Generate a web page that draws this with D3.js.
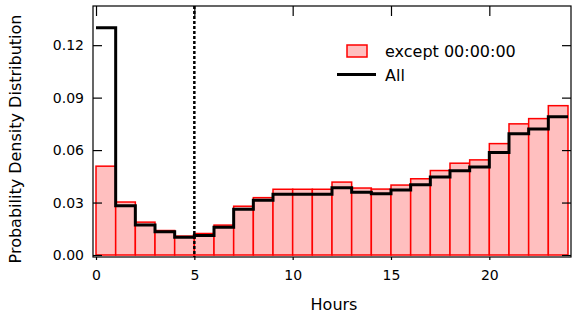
<!DOCTYPE html>
<html>
<head>
<meta charset="utf-8">
<script src="https://cdn.jsdelivr.net/npm/d3@7"></script>
<style>
  body { margin: 0; background: #fff; }
  svg text { font-family: "DejaVu Sans", sans-serif; fill: #000; }
</style>
</head>
<body>
<div id="chart"></div>
<script>
// hour bins (start of each 1h bin)
var hours = [0,1,2,3,4,5,6,7,8,9,10,11,12,13,14,15,16,17,18,19,20,21,22,23];
// density, timestamps 00:00:00 excluded
var exceptVals = [0.0508,0.0303,0.0188,0.0140,0.0108,0.0123,0.0171,0.0279,0.0328,0.0376,0.0376,0.0376,
                  0.0417,0.0383,0.0377,0.0400,0.0436,0.0483,0.0525,0.0544,0.0637,0.0750,0.0780,0.0854];
// density, all timestamps
var allVals = [0.1300,0.0281,0.0171,0.0133,0.0102,0.0112,0.0159,0.0261,0.0313,0.0347,0.0347,0.0347,
               0.0385,0.0359,0.0351,0.0372,0.0402,0.0446,0.0482,0.0503,0.0586,0.0694,0.0721,0.0790];
var xTicks = [0,5,10,15,20];
var yTicks = [0,0.03,0.06,0.09,0.12];
var markerHour = 5;

var width = 572, height = 313;
var plot = {left: 93, right: 571, top: 6, bottom: 257};

var svg = d3.select("#chart").append("svg")
    .attr("width", width)
    .attr("height", height);

var x = d3.scaleLinear()
    .domain([-0.153, 24.153])
    .range([plot.left, plot.right]);
var y = d3.scaleLinear()
    .domain([-0.00114, 0.1424])
    .range([plot.bottom, plot.top]);

// bars (except 00:00:00)
svg.append("g")
    .selectAll("rect")
    .data(hours)
    .enter()
    .append("rect")
    .attr("x", function (d) { return x(d); })
    .attr("y", function (d, i) { return y(exceptVals[i]); })
    .attr("width", function (d) { return x(d + 1) - x(d); })
    .attr("height", function (d, i) { return y(0) - y(exceptVals[i]); })
    .attr("fill", "#ffbfbf")
    .attr("stroke", "#ff0000")
    .attr("stroke-width", 1.5);

// step line (All)
var stepData = hours.map(function (h, i) { return [h, allVals[i]]; });
stepData.push([24, allVals[allVals.length - 1]]);
var line = d3.line()
    .x(function (d) { return x(d[0]); })
    .y(function (d) { return y(d[1]); })
    .curve(d3.curveStepAfter);
svg.append("path")
    .datum(stepData)
    .attr("d", line)
    .attr("fill", "none")
    .attr("stroke", "#000")
    .attr("stroke-width", 3);

// dotted marker line
svg.append("line")
    .attr("x1", x(markerHour)).attr("x2", x(markerHour))
    .attr("y1", plot.top).attr("y2", plot.bottom)
    .attr("stroke", "#000")
    .attr("stroke-width", 2.5)
    .attr("stroke-dasharray", "3,2");

// axes
var xAxis = svg.append("g")
    .attr("transform", "translate(0," + plot.bottom + ")")
    .call(d3.axisBottom(x).tickValues(xTicks).tickSize(3).tickPadding(10).tickFormat(d3.format("d")));
var xTop = svg.append("g")
    .attr("transform", "translate(0," + plot.top + ")")
    .call(d3.axisTop(x).tickValues(xTicks).tickSize(-10).tickFormat(""));
var yAxis = svg.append("g")
    .attr("transform", "translate(" + plot.left + ",0)")
    .call(d3.axisLeft(y).tickValues(yTicks).tickSize(-9).tickPadding(9).tickFormat(d3.format(".2f")));
var yRight = svg.append("g")
    .attr("transform", "translate(" + plot.right + ",0)")
    .call(d3.axisRight(y).tickValues(yTicks).tickSize(-9).tickFormat(""));

[xAxis, xTop, yAxis, yRight].forEach(function (a) {
    a.select(".domain").remove();
    a.selectAll(".tick line").attr("stroke", "#000").attr("stroke-width", 1.2);
    a.selectAll(".tick text").attr("font-size", "14px").attr("font-family", "DejaVu Sans, sans-serif");
});

// frame
svg.append("rect")
    .attr("x", plot.left).attr("y", plot.top)
    .attr("width", plot.right - plot.left)
    .attr("height", plot.bottom - plot.top)
    .attr("fill", "none")
    .attr("stroke", "#000")
    .attr("stroke-width", 1.2);

// axis labels
svg.append("text")
    .attr("x", 334)
    .attr("y", 310)
    .attr("text-anchor", "middle")
    .attr("font-size", "16px")
    .text("Hours");
svg.append("text")
    .attr("transform", "translate(21,139) rotate(-90)")
    .attr("text-anchor", "middle")
    .attr("font-size", "16px")
    .text("Probability Density Distribution");

// legend
var legend = svg.append("g");
legend.append("rect")
    .attr("x", 347).attr("y", 45)
    .attr("width", 20).attr("height", 12)
    .attr("fill", "#ffbfbf")
    .attr("stroke", "#ff0000")
    .attr("stroke-width", 1.5);
legend.append("text")
    .attr("x", 385).attr("y", 57)
    .attr("font-size", "16px")
    .text("except 00:00:00");
legend.append("line")
    .attr("x1", 337).attr("x2", 376)
    .attr("y1", 74.5).attr("y2", 74.5)
    .attr("stroke", "#000")
    .attr("stroke-width", 3);
legend.append("text")
    .attr("x", 385).attr("y", 80.5)
    .attr("font-size", "16px")
    .text("All");
</script>
</body>
</html>
